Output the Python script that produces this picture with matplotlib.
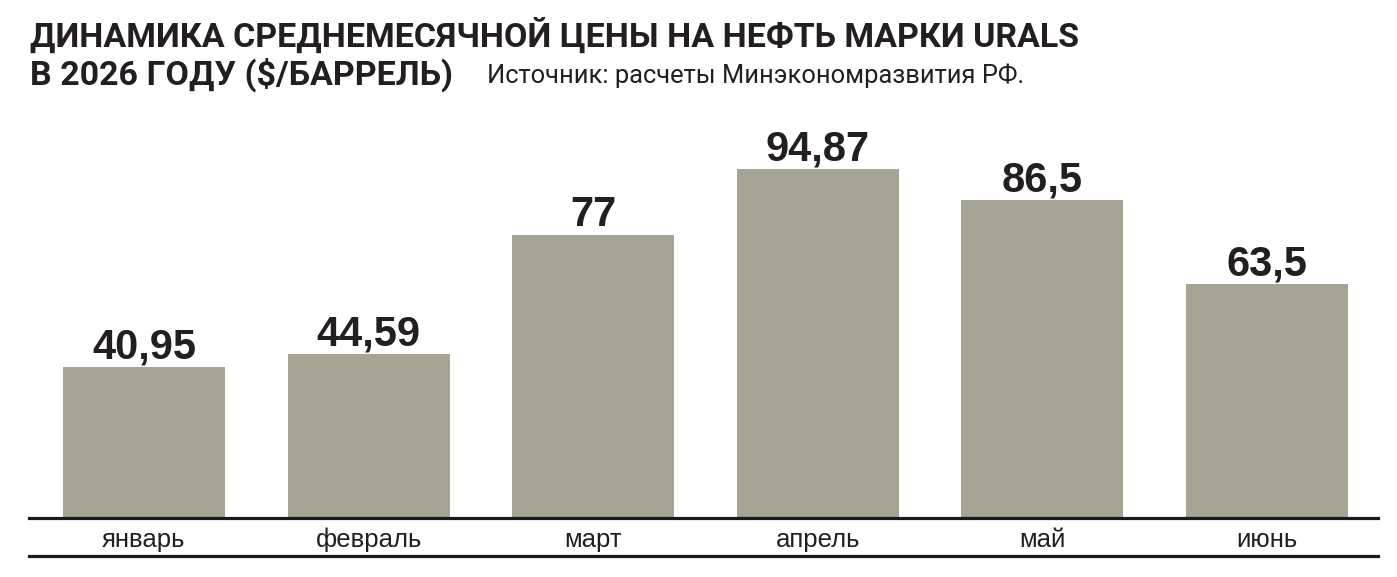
import matplotlib
matplotlib.use("Agg")
import matplotlib.pyplot as plt
from matplotlib import font_manager

# data
months = ["январь", "февраль", "март", "апрель", "май", "июнь"]
prices = [40.95, 44.59, 77, 94.87, 86.5, 63.5]
labels = ["40,95", "44,59", "77", "94,87", "86,5", "63,5"]

TITLE_1 = "ДИНАМИКА СРЕДНЕМЕСЯЧНОЙ ЦЕНЫ НА НЕФТЬ МАРКИ URALS"
TITLE_2 = "В 2026 ГОДУ ($/БАРРЕЛЬ)"
SOURCE = "Источник: расчеты Минэкономразвития РФ."

BAR_COLOR = "#a6a494"
INK = "#231f20"

installed = {f.name for f in font_manager.fontManager.ttflist}
narrow = "Liberation Sans Narrow" if "Liberation Sans Narrow" in installed else "Roboto"
plain = "Liberation Sans"

W, H = 1397, 577
fig = plt.figure(figsize=(W / 100, H / 100), dpi=100)
fig.patch.set_facecolor("white")

# axes: baseline at y=518 px, 100 units = 368 px
x0, x1 = 29, 1378
y_base = 518
ax = fig.add_axes([x0 / W, 1 - y_base / H, (x1 - x0) / W, 368 / H])

pos = list(range(len(months)))
ax.bar(pos, prices, width=0.721, color=BAR_COLOR, zorder=2)
ax.set_xlim(-0.512, 5.494)
ax.set_ylim(0, 100)

for p, v, lab in zip(pos, prices, labels):
    ax.annotate(lab, (p, v), xytext=(0, 6), textcoords="offset points",
                ha="center", va="baseline", fontsize=30, fontweight="bold",
                family=plain, color=INK)

ax.set_xticks(pos)
ax.set_xticklabels(months, family=plain, fontsize=18.5, color=INK)
ax.tick_params(axis="x", length=0, pad=7)
ax.set_yticks([])
for s in ["top", "right", "left"]:
    ax.spines[s].set_visible(False)
ax.spines["bottom"].set_linewidth(2.3)
ax.spines["bottom"].set_color("#1a1a1a")
ax.spines["bottom"].set_zorder(3)

# lower rule under the month names
ax.axhline(-(556 - y_base) / 3.68, color="#1a1a1a", lw=2.3, clip_on=False)

fig.text(30 / W, 1 - 47 / H, TITLE_1, family=narrow, fontweight="bold",
         fontsize=24.5, color=INK, va="baseline", ha="left")
fig.text(30 / W, 1 - 85 / H, TITLE_2, family=narrow, fontweight="bold",
         fontsize=24.5, color=INK, va="baseline", ha="left")
fig.text(487 / W, 1 - 83 / H, SOURCE, family=narrow, fontsize=18.4,
         color=INK, va="baseline", ha="left")

fig.savefig("out.png", dpi=100, facecolor="white")
